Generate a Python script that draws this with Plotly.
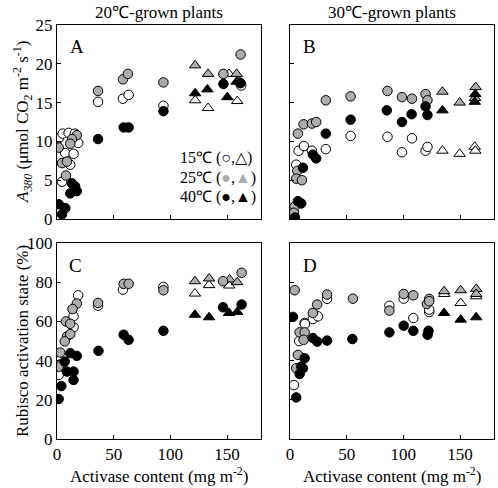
import plotly.graph_objects as go
from plotly.subplots import make_subplots

# ---------------- data ----------------
# Panel A: A380 vs activase, 20C-grown plants
A_c15_x = [1.5, 5.0, 10.2, 15.8, 18.7, 7.3, 14.6, 11.7, 4.4, 36.2, 58.2, 63.2, 93.9, 162.6]
A_c15_y = [10.4, 11.0, 11.1, 11.0, 9.8, 8.5, 8.4, 7.0, 4.8, 15.1, 15.5, 16.0, 14.6, 17.2]
A_c25_x = [17.5, 13.2, 11.7, 1.5, 4.4, 8.8, 7.9, 36.2, 58.2, 62.6, 93.9, 146.8, 162.0, 161.0]
A_c25_y = [10.8, 10.3, 9.7, 9.2, 7.2, 7.4, 5.6, 16.5, 18.0, 18.7, 17.6, 18.7, 21.2, 17.6]
A_c40_x = [13.2, 16.0, 17.5, 11.7, 1.5, 7.3, 4.4, 36.2, 58.8, 63.2, 93.9, 146.8, 162.0]
A_c40_y = [4.6, 4.2, 3.6, 3.3, 1.9, 1.4, 0.6, 10.3, 11.8, 11.8, 13.9, 17.4, 17.5]
A_t15_x = [121.9, 133.3, 151.8, 159.0]
A_t15_y = [15.3, 14.3, 18.7, 15.2]
A_t25_x = [121.9, 133.3, 158.5]
A_t25_y = [19.8, 18.7, 18.7]
A_t40_x = [121.9, 132.7, 150.3, 158.5]
A_t40_y = [16.2, 16.7, 15.7, 17.7]

# Panel B: A380 vs activase, 30C-grown plants
B_c15_x = [7.6, 12.3, 19.3, 5.5, 31.6, 53.5, 86.0, 98.8, 107.6, 119.6, 121.3]
B_c15_y = [8.8, 9.4, 8.8, 7.0, 9.0, 10.7, 10.6, 8.6, 10.4, 8.8, 9.3]
B_c25_x = [7.0, 12.0, 19.3, 23.1, 6.4, 5.5, 10.5, 4.1, 3.5, 31.6, 53.5, 86.0, 98.8, 107.6, 119.6, 121.3]
B_c25_y = [11.0, 12.2, 12.3, 12.5, 6.2, 5.2, 5.0, 1.6, 0.8, 15.3, 15.8, 16.5, 15.7, 15.5, 16.1, 15.3]
B_c40_x = [20.2, 23.1, 11.4, 7.0, 9.9, 4.4, 31.6, 53.5, 85.4, 98.8, 107.3, 119.6, 121.3]
B_c40_y = [8.3, 7.8, 6.6, 2.3, 2.0, 0.2, 11.0, 12.8, 14.0, 12.5, 13.5, 14.5, 13.4]
B_t15_x = [134.5, 149.7, 163.0, 163.5]
B_t15_y = [8.8, 8.4, 9.3, 8.8]
B_t25_x = [134.5, 149.7, 163.8, 163.3]
B_t25_y = [16.4, 15.0, 17.0, 15.6]
B_t40_x = [134.5, 163.0, 163.5]
B_t40_y = [14.0, 15.1, 16.1]

# Panel C: Rubisco activation state, 20C-grown plants
C_c15_x = [18.7, 14.6, 14.6, 1.5, 3.0, 36.2, 58.2, 93.9]
C_c15_y = [73.3, 62.6, 57.0, 32.7, 38.0, 68.0, 76.2, 77.6]
C_c25_x = [17.5, 13.7, 7.9, 11.7, 8.8, 11.7, 6.8, 2.9, 1.5, 36.2, 58.8, 63.2, 93.9, 146.5, 162.9]
C_c25_y = [69.1, 66.3, 60.0, 58.8, 52.3, 53.5, 49.8, 44.1, 36.9, 69.4, 79.2, 79.2, 75.9, 80.5, 84.8]
C_c40_x = [11.7, 17.5, 6.8, 8.8, 14.6, 14.6, 3.8, 1.5, 36.6, 58.8, 63.2, 93.9, 146.5, 162.9]
C_c40_y = [43.8, 42.4, 39.5, 34.4, 34.4, 30.1, 27.0, 20.4, 45.0, 53.2, 50.6, 55.2, 67.2, 68.6]
C_t15_x = [121.7, 134.2, 152.0]
C_t15_y = [74.2, 78.5, 78.3]
C_t25_x = [121.7, 134.2, 152.3, 159.0]
C_t25_y = [80.5, 81.9, 81.4, 80.0]
C_t40_x = [121.7, 134.2, 151.8, 159.0]
C_t40_y = [63.4, 62.1, 64.3, 64.8]

# Panel D: Rubisco activation state, 30C-grown plants
D_c15_x = [12.9, 20.2, 24.6, 32.7, 9.9, 8.0, 3.5, 87.7, 100.3, 108.8, 122.8, 122.8, 13.2]
D_c15_y = [59.2, 61.2, 62.6, 71.5, 50.6, 50.0, 27.5, 68.0, 71.6, 61.7, 64.8, 66.0, 58.7]
D_c25_x = [4.1, 20.2, 24.0, 32.7, 8.5, 12.9, 12.0, 7.0, 5.5, 55.5, 87.7, 100.3, 108.8, 122.8, 120.8, 122.8]
D_c25_y = [75.9, 64.3, 68.6, 73.7, 54.4, 54.4, 50.6, 42.9, 36.1, 71.6, 65.5, 74.0, 73.3, 71.5, 68.9, 70.3]
D_c40_x = [2.6, 20.2, 24.0, 32.7, 12.9, 9.9, 8.5, 11.4, 5.5, 55.0, 87.7, 100.3, 108.8, 122.2, 121.4]
D_c40_y = [62.3, 51.5, 49.7, 50.2, 41.2, 36.9, 33.2, 36.1, 21.2, 51.0, 54.4, 57.8, 55.2, 55.2, 53.2]
D_t15_x = [136.0, 150.6, 164.3]
D_t15_y = [74.0, 69.4, 72.8]
D_t25_x = [136.0, 150.6, 164.3, 164.3]
D_t25_y = [75.4, 75.9, 76.6, 74.0]
D_t40_x = [136.0, 150.6, 164.3]
D_t40_y = [64.3, 60.9, 62.1]

x_ticks = [0, 50, 100, 150]
yA_ticks = [0, 5, 10, 15, 20, 25]
yC_ticks = [0, 20, 40, 60, 80, 100]
col_titles = ["20℃-grown plants", "30℃-grown plants"]
panel_letters = ["A", "B", "C", "D"]
legend_lines = ["15℃ (○,△)",
                "25℃ (<span style='color:#acacac'>●</span>,<span style='color:#acacac'>▲</span>)",
                "40℃ (●,▲)"]

# ---------------- styles ----------------
FONT = "'Liberation Serif', 'Times New Roman', serif"
GRAY = "#acacac"
fills = {"15": "white", "25": GRAY, "40": "black"}

fig = make_subplots(rows=2, cols=2)

panels = {
    (1, 1): dict(c15=(A_c15_x, A_c15_y), c25=(A_c25_x, A_c25_y), c40=(A_c40_x, A_c40_y),
                 t15=(A_t15_x, A_t15_y), t25=(A_t25_x, A_t25_y), t40=(A_t40_x, A_t40_y)),
    (1, 2): dict(c15=(B_c15_x, B_c15_y), c25=(B_c25_x, B_c25_y), c40=(B_c40_x, B_c40_y),
                 t15=(B_t15_x, B_t15_y), t25=(B_t25_x, B_t25_y), t40=(B_t40_x, B_t40_y)),
    (2, 1): dict(c15=(C_c15_x, C_c15_y), c25=(C_c25_x, C_c25_y), c40=(C_c40_x, C_c40_y),
                 t15=(C_t15_x, C_t15_y), t25=(C_t25_x, C_t25_y), t40=(C_t40_x, C_t40_y)),
    (2, 2): dict(c15=(D_c15_x, D_c15_y), c25=(D_c25_x, D_c25_y), c40=(D_c40_x, D_c40_y),
                 t15=(D_t15_x, D_t15_y), t25=(D_t25_x, D_t25_y), t40=(D_t40_x, D_t40_y)),
}

for (r, c), d in panels.items():
    for key in ["t15", "c15", "t25", "c25", "t40", "c40"]:
        xs, ys = d[key]
        sym = "circle" if key[0] == "c" else "triangle-up"
        fig.add_trace(go.Scatter(
            x=xs, y=ys, mode="markers", showlegend=False,
            marker=dict(symbol=sym, size=9.5 if sym == "circle" else 10,
                        color=fills[key[1:]],
                        line=dict(color="black", width=1))), row=r, col=c)

# ---------------- layout ----------------
W, H = 498, 488
L, R, T, B = 57, 4, 25, 49
pw, ph = W - L - R, H - T - B

def xd(a, b):
    return [(a - L) / pw, (b - L) / pw]

def yd(top, bot):
    return [(H - B - bot) / ph, (H - B - top) / ph]

def px_x(p):
    return (p - L) / pw

def px_y(p):
    return (H - B - p) / ph

dom_x = {1: xd(57, 261), 2: xd(290, 494)}
dom_y = {1: yd(25, 219), 2: yd(243, 439)}

axis_common = dict(showline=True, linecolor="black", linewidth=1, mirror=True,
                   ticks="inside", ticklen=4, tickcolor="black", tickwidth=1,
                   showgrid=False, zeroline=False, automargin=False,
                   tickfont=dict(family=FONT, size=17, color="black"))

for r in (1, 2):
    for c in (1, 2):
        fig.update_xaxes(domain=dom_x[c], range=[0, 180], tickvals=x_ticks,
                         showticklabels=(r == 2), ticklabelstandoff=0,
                         **axis_common, row=r, col=c)
        fig.update_yaxes(domain=dom_y[r],
                         range=[0, 25] if r == 1 else [0, 100],
                         tickvals=yA_ticks if r == 1 else yC_ticks,
                         showticklabels=(c == 1), **axis_common, row=r, col=c)

ann = []
def add_text(text, x, y, size=17, xanchor="center", angle=0):
    ann.append(dict(text=text, xref="paper", yref="paper", x=x, y=y,
                    xanchor=xanchor, yanchor="middle", textangle=angle,
                    showarrow=False, font=dict(family=FONT, size=size, color="black")))

# column titles
for i, t in enumerate(col_titles):
    add_text(t, sum(dom_x[i + 1]) / 2, px_y(12))
# panel letters
letter_pos = [(77, 46), (309, 46), (75, 265), (310, 265)]
for letter, (px, py) in zip(panel_letters, letter_pos):
    add_text(letter, px_x(px), px_y(py), size=19)
# legend text in panel A
for line, py in zip(legend_lines, [158, 178, 197]):
    add_text(line, px_x(178), px_y(py), size=16, xanchor="left")
# y titles
add_text("<i>A</i><sub><i>380</i></sub> (μmol CO<sub>2</sub> m<sup>-2</sup> s<sup>-1</sup>)",
         px_x(22), px_y(122), angle=-90)
add_text("Rubisco activation state (%)", px_x(22), px_y(341), angle=-90)
# x titles
for c in (1, 2):
    add_text("Activase content (mg m<sup>-2</sup>)", sum(dom_x[c]) / 2, px_y(475))

fig.update_layout(width=W, height=H, margin=dict(l=L, r=R, t=T, b=B, autoexpand=False),
                  paper_bgcolor="white", plot_bgcolor="white",
                  annotations=ann, showlegend=False,
                  font=dict(family=FONT, color="black"))

fig.write_html("out.html", config={"displayModeBar": False},
               post_script="document.body.style.margin='0';")
